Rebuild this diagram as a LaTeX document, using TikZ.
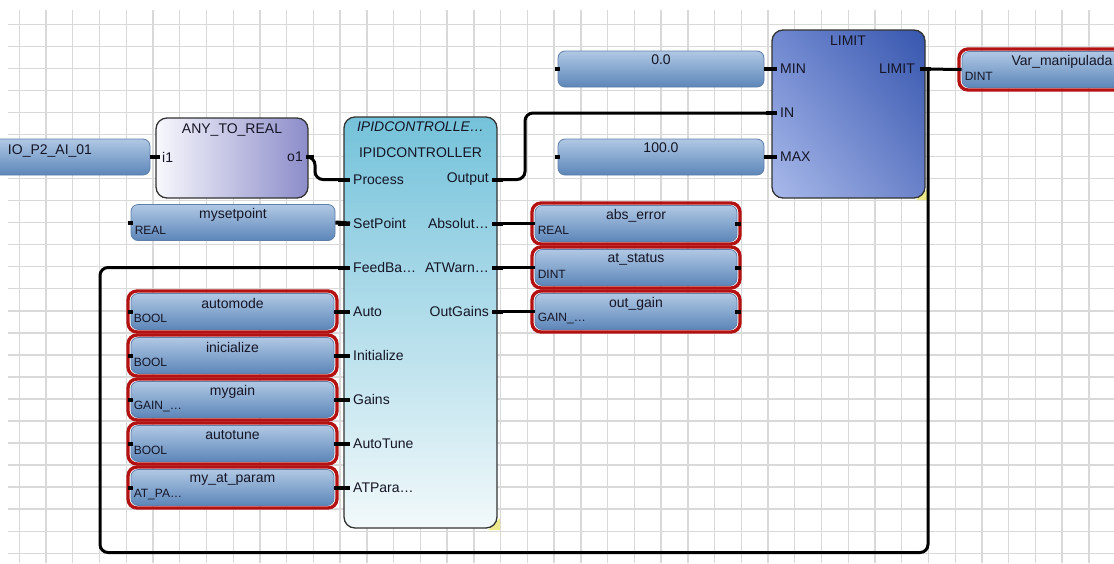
\documentclass[tikz,border=0pt]{standalone}
\usepackage{fontspec}
\setmainfont{Liberation Sans}
\usetikzlibrary{shadings}
\definecolor{gridc}{HTML}{D9D9D9}
\definecolor{vartop}{HTML}{B0C8E4}
\definecolor{varbot}{HTML}{5C86B9}
\definecolor{varedge}{HTML}{5E7FAA}
\definecolor{redb}{HTML}{B41212}
\definecolor{pidtop}{HTML}{74C2DA}
\definecolor{pidbot}{HTML}{F2F9FB}
\definecolor{atrl}{HTML}{F8F8FD}
\definecolor{atrr}{HTML}{8C8CCA}
\definecolor{limul}{HTML}{7088D0}
\definecolor{limur}{HTML}{3656AE}
\definecolor{limll}{HTML}{A9BAEA}
\definecolor{limlr}{HTML}{6A82C9}
\definecolor{txt}{HTML}{151525}
\definecolor{handle}{HTML}{EEEA8C}
\tikzset{
  gridline/.style={draw=gridc, line width=1.4pt},
  varbar/.style={rectangle, rounded corners=7pt, top color=vartop, bottom color=varbot, draw=varedge, line width=0.8pt, minimum height=36pt, inner sep=0pt},
  redframe/.style={rectangle, draw=redb, line width=3.3pt, rounded corners=9pt, inner sep=0pt, minimum height=41pt},
  wire/.style={line width=3pt, black, rounded corners=8pt},
  stub/.style={line width=4pt, black},
  blockbox/.style={rectangle, rounded corners=11pt, draw=black!80, line width=1.3pt, inner sep=0pt},
  lbl/.style={font=\fontsize{14}{16}\selectfont, text=txt, inner sep=0pt},
  typ/.style={font=\fontsize{12}{14}\selectfont, text=txt, inner sep=0pt},
}
\newcommand\redvar[6]{%
  \node[varbar, minimum width=#4] (#1) at (#2,#3) {};
  \node[redframe, minimum width=#4+6pt] (#1f) at (#2,#3) {};
  \node[lbl] (#1n) at ([yshift=8pt]#1.center) {#5};
  \node[typ, anchor=west] (#1t) at ([xshift=3pt,yshift=-7pt]#1.west) {#6};
}
\begin{document}
\begin{tikzpicture}[x=1pt,y=-1pt]
\fill[white] (0,0) rectangle (1114,563);
\useasboundingbox (0,0) rectangle (1114,563);
% grid
\foreach \k in {0,...,40} {\pgfmathsetmacro\gx{19.3+26.74*\k}\draw[gridline] (\gx,10) -- (\gx,563);}
\foreach \k in {0,...,24} {\pgfmathsetmacro\gy{24.3+22.04*\k}\draw[gridline] (8,\gy) -- (1114,\gy);}

% resize handles
\fill[handle] (488,530) -- (500,518) -- (500,530) -- cycle;
\fill[handle] (916,200) -- (928,188) -- (928,200) -- cycle;

% ---------- blocks ----------
\node[blockbox, left color=atrl, right color=atrr, minimum width=152pt, minimum height=80pt] (atr) at (232,158) {};
\node[lbl] (atrT) at (232,130) {ANY\_TO\_REAL};
\node[lbl, anchor=west] (ti1) at (162,157) {i1};
\node[lbl, anchor=east] (to1) at (303,157) {o1};
\coordinate (pi1) at (156,157);
\coordinate (po1) at (308,157);

\node[blockbox, top color=pidtop, bottom color=pidbot, minimum width=153pt, minimum height=411pt] (pid) at (420.5,322.5) {};
\node[lbl, font=\fontsize{14}{16}\selectfont\itshape] (pidT1) at (420.5,127) {IPIDCONTROLLE…};
\node[lbl] (pidT2) at (420.5,153) {IPIDCONTROLLER};
\foreach \nm/\yy/\tx in {Proc/179.5/Process, SetP/223.5/SetPoint, FB/267.5/FeedBa…, Auto/311.5/Auto, Init/355.5/Initialize, Gains/399.5/Gains, ATune/443.5/AutoTune, ATPar/487.5/ATPara…}{
  \coordinate (p\nm) at (344,\yy);
  \node[lbl, anchor=west] (t\nm) at (353,\yy) {\tx};
  \draw[stub] ([xshift=-6pt]p\nm) -- ([xshift=6pt]p\nm);
}
\foreach \nm/\yy/\tx in {Out/179.5/Output, Abs/223.5/Absolut…, ATW/267.5/ATWarn…, OG/311.5/OutGains}{
  \coordinate (p\nm) at (497,\yy);
  \node[lbl, anchor=east] (t\nm) at (489,\yy) {\tx};
  \draw[stub] ([xshift=-5pt]p\nm) -- ([xshift=6pt]p\nm);
}

\node[blockbox, shade, upper left=limul, upper right=limur, lower left=limll, lower right=limlr, minimum width=153pt, minimum height=168pt] (lim) at (848.5,114) {};
\node[lbl] (limT) at (848,41) {LIMIT};
\coordinate (lMIN) at (772,69);
\coordinate (lIN) at (772,113);
\coordinate (lMAX) at (772,157);
\coordinate (lOut) at (925,69);
\node[lbl, anchor=west] (tMIN) at (780,69) {MIN};
\node[lbl, anchor=west] (tIN) at (780,113) {IN};
\node[lbl, anchor=west] (tMAX) at (780,157) {MAX};
\node[lbl, anchor=east] (tLO) at (915,69) {LIMIT};

% ---------- variables ----------
\node[varbar, minimum width=200pt] (io) at (50,157) {};
\node[lbl] (ion) at ([yshift=6pt]io.center) {IO\_P2\_AI\_01};

\node[varbar, minimum width=204pt] (setp) at (233,222.5) {};
\node[lbl] (setpn) at ([yshift=8pt]setp.center) {mysetpoint};
\node[typ, anchor=west] (setpt) at ([xshift=4pt,yshift=-8pt]setp.west) {REAL};

\node[varbar, minimum width=206pt] (cmin) at (661,69) {};
\node[lbl] (cminn) at ([yshift=9pt]cmin.center) {0.0};
\node[varbar, minimum width=206pt] (cmax) at (661,157) {};
\node[lbl] (cmaxn) at ([yshift=9pt]cmax.center) {100.0};

\redvar{autom}{232.5}{311.5}{203pt}{automode}{BOOL}
\redvar{inic}{232.5}{355.5}{203pt}{inicialize}{BOOL}
\redvar{mgain}{232.5}{399.5}{203pt}{mygain}{GAIN\_…}
\redvar{atune}{232.5}{443.5}{203pt}{autotune}{BOOL}
\redvar{atpar}{232.5}{487.5}{203pt}{my\_at\_param}{AT\_PA…}

\redvar{abse}{636}{223.5}{202pt}{abs\_error}{REAL}
\redvar{atst}{636}{267.5}{202pt}{at\_status}{DINT}
\redvar{outg}{636}{311.5}{202pt}{out\_gain}{GAIN\_…}

\redvar{vman}{1062}{69.5}{200pt}{Var\_manipulada}{DINT}

% ---------- small end marks on variables ----------
\foreach \v in {setp, autom, inic, mgain, atune, atpar, cmin, cmax}{
  \draw[stub] ([xshift=-3pt]\v.west) -- ([xshift=2pt]\v.west);
}
\foreach \v in {abse, atst, outg}{
  \draw[stub] ([xshift=-2pt]\v.east) -- ([xshift=4pt]\v.east);
}

% ---------- connections ----------
\draw[stub] (io.east) -- ([xshift=4pt]pi1);
\draw[stub] ([xshift=-2pt]po1) -- ([xshift=6pt]po1);
\draw[wire] (po1) -- ++(7,0) |- (pProc);
\foreach \v/\p in {setp/SetP, autom/Auto, inic/Init, mgain/Gains, atune/ATune, atpar/ATPar}{
  \draw[stub] (\v.east) -- ([xshift=6pt]p\p);
}
\draw[wire] (pAbs) -- (abse.west);
\draw[wire] (pATW) -- (atst.west);
\draw[wire] (pOG) -- (outg.west);
\draw[wire] (pOut) -- ++(28,0) |- (lIN);
\draw[stub] (cmin.east) -- ([xshift=5pt]lMIN);
\draw[stub] (cmax.east) -- ([xshift=5pt]lMAX);
\draw[stub] ([xshift=-6pt]lIN) -- ([xshift=5pt]lIN);
\draw[stub] ([xshift=-5pt]lOut) -- ([xshift=6pt]lOut);
\draw[wire] (lOut) -- (vman.west);
\coordinate (fbTop) at (928,68);
\coordinate (fbBR) at (928,552.5);
\coordinate (fbBL) at (100,552.5);
\draw[wire] (fbTop) -- (fbBR) -- (fbBL) |- (pFB);
\end{tikzpicture}
\end{document}
